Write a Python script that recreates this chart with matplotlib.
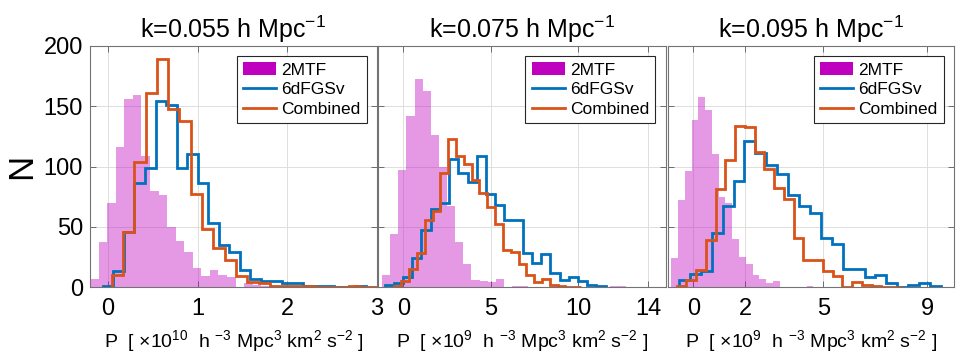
import matplotlib
matplotlib.use("Agg")
import matplotlib.pyplot as plt
import numpy as np
from matplotlib.patches import Patch
from matplotlib.lines import Line2D

plt.rcParams["font.family"] = ["Liberation Sans", "DejaVu Sans"]
plt.rcParams["mathtext.fontset"] = "custom"
plt.rcParams["mathtext.rm"] = "Liberation Sans"
plt.rcParams["mathtext.default"] = "regular"

# ---- data ----
titles = [r"k=0.055 h Mpc$^{-1}$", r"k=0.075 h Mpc$^{-1}$", r"k=0.095 h Mpc$^{-1}$"]
xlabels = [r"P  [ ×10$^{10}$  h $^{-3}$ Mpc$^{3}$ km$^{2}$ s$^{-2}$ ]",
           r"P  [ ×10$^{9}$  h $^{-3}$ Mpc$^{3}$ km$^{2}$ s$^{-2}$ ]",
           r"P  [ ×10$^{9}$  h $^{-3}$ Mpc$^{3}$ km$^{2}$ s$^{-2}$ ]"]
xlims = [(-0.2, 3.0), (-1.45, 15.0), (-0.97, 10.03)]
xticks = [[0, 1, 2, 3], [0, 5, 10, 14], [0, 2, 5, 9]]
series_names = ["2MTF", "6dFGSv", "Combined"]

# histogram counts, with (first edge, bin width) for each
mtf_055 = [7, 37, 70, 116, 156, 159, 109, 80, 76, 50, 38, 29, 16, 9, 14, 10, 8,
           0, 3, 2, 1, 1, 0, 1, 0, 0, 0, 0, 0, 0, 0, 0, 1, 1]
mtf_055_bins = (-0.2, 0.0955)
sv_055 = [1, 13, 46, 86, 99, 154, 151, 99, 110, 86, 53, 35, 29, 14, 7, 5, 5, 3,
          3, 1, 1, 1, 0, 0, 1]
sv_055_bins = (-0.056, 0.1173)
comb_055 = [10, 46, 104, 161, 189, 148, 138, 77, 48, 32, 22, 9, 4, 3, 1, 1, 1,
            1, 0, 0, 0, 1, 0, 0]
comb_055_bins = (0.041, 0.126)

mtf_075 = [10, 44, 97, 142, 173, 163, 126, 100, 67, 37, 19, 6, 5, 4, 7, 0, 1, 1,
           0, 0, 0, 1, 0, 0, 0, 0, 0, 0, 1, 1]
mtf_075_bins = (-1.22, 0.465)
sv_075 = [2, 3, 8, 24, 47, 65, 70, 106, 95, 87, 109, 77, 68, 56, 56, 28, 20, 27,
          12, 6, 8, 5, 2, 1]
sv_075_bins = (-1.07, 0.527)
comb_075 = [1, 5, 15, 28, 56, 63, 95, 123, 109, 102, 89, 78, 66, 52, 31, 29, 19,
            10, 4, 7, 2, 1, 0, 0]
comb_075_bins = (-0.56, 0.447)

mtf_095 = [24, 72, 96, 139, 158, 147, 110, 75, 70, 40, 25, 19, 10, 7, 3, 5, 0, 0,
           0, 0, 1]
mtf_095_bins = (-0.84, 0.26)
sv_095 = [6, 11, 13, 45, 67, 88, 121, 111, 101, 94, 76, 67, 61, 41, 36, 15, 15, 8,
          10, 3, 0, 2, 3, 1]
sv_095_bins = (-0.55, 0.42)
comb_095 = [1, 6, 14, 39, 81, 105, 134, 133, 112, 98, 82, 73, 41, 22, 22, 13, 9,
            0, 4, 2, 1, 0, 0]
comb_095_bins = (-0.635, 0.375)

panels = [
    [(mtf_055, mtf_055_bins), (sv_055, sv_055_bins), (comb_055, comb_055_bins)],
    [(mtf_075, mtf_075_bins), (sv_075, sv_075_bins), (comb_075, comb_075_bins)],
    [(mtf_095, mtf_095_bins), (sv_095, sv_095_bins), (comb_095, comb_095_bins)],
]

MAGENTA = (0.75, 0, 0.75)
BLUE = "#0072BD"
ORANGE = "#D95319"


def edges_of(counts, bins):
    start, width = bins
    return start + width * np.arange(len(counts) + 1)


fig = plt.figure(figsize=(9.64, 3.64), dpi=100)
lefts = [90, 378, 668]
widths = [287, 287.5, 286]
W, H = 964, 364
top_px, bot_px = 46, 287

for i in range(3):
    ax = fig.add_axes([lefts[i] / W, 1 - bot_px / H, widths[i] / W,
                       (bot_px - top_px) / H])
    (m, mb), (s, sb), (c, cb) = panels[i]
    ax.stairs(m, edges_of(m, mb), fill=True, color=MAGENTA, alpha=0.4,
              linewidth=0)
    ax.stairs(s, edges_of(s, sb), color=BLUE, linewidth=2, baseline=0)
    ax.stairs(c, edges_of(c, cb), color=ORANGE, linewidth=2, baseline=0)

    ax.set_xlim(*xlims[i])
    ax.set_ylim(0, 200)
    ax.set_xticks(xticks[i])
    ax.set_yticks([0, 50, 100, 150, 200])
    ax.grid(True, color="0.87", linewidth=0.7)
    ax.set_axisbelow(True)
    ax.tick_params(direction="in", top=True, right=True, length=4, width=0.6,
                   color="0.35", labelsize=17, pad=8)
    if i > 0:
        ax.tick_params(labelleft=False)
    else:
        ax.tick_params(axis="y", pad=5)
        ax.set_ylabel("N", fontsize=25, labelpad=4)
    for sp in ax.spines.values():
        sp.set_color("0.45")
        sp.set_linewidth(0.8)
    ax.set_title(titles[i], fontsize=18, pad=6)
    ax.set_xlabel(xlabels[i], fontsize=14, labelpad=6)

    handles = [Patch(facecolor=MAGENTA, edgecolor="none"),
               Line2D([], [], color=BLUE, linewidth=2),
               Line2D([], [], color=ORANGE, linewidth=2)]
    leg = ax.legend(handles, series_names, loc="upper right", fontsize=12.5,
                    frameon=True, fancybox=False, edgecolor="0.15",
                    framealpha=1, handlelength=1.9, handletextpad=0.3,
                    labelspacing=0.25, borderpad=0.35, borderaxespad=0.6)
    leg.get_frame().set_linewidth(0.8)

fig.savefig("out.png", dpi=100)
